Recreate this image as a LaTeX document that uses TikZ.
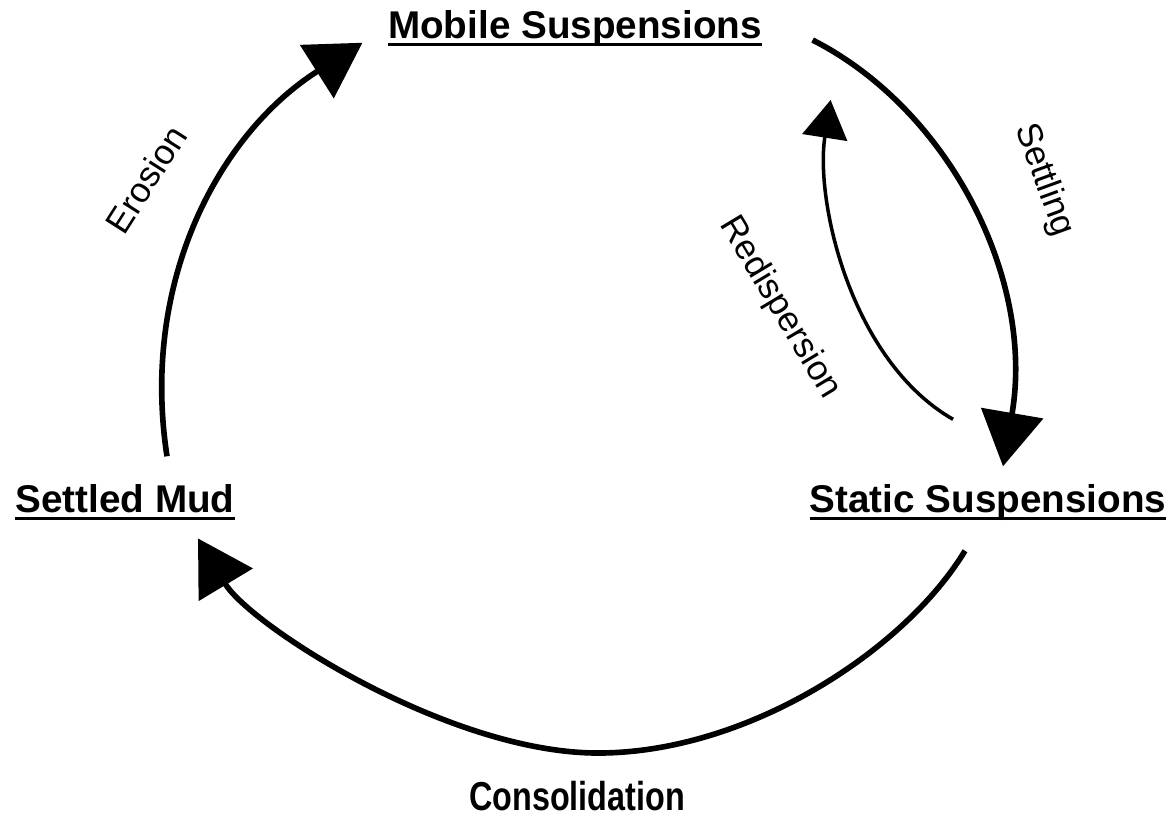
\documentclass[tikz,border=0pt]{standalone}
\usepackage{fontspec}
\setmainfont{Liberation Sans}
\usetikzlibrary{arrows.meta}
% underline running through the descenders
\newsavebox{\statebox}
\newcommand{\stateline}[1]{%
  \sbox{\statebox}{#1}%
  \rlap{\rule[-2.2pt]{\wd\statebox}{0.9pt}}\usebox{\statebox}}

\begin{document}
\begin{tikzpicture}[
  % arrow styles
  >={Triangle[length=5.4mm, width=6.2mm]},
  % state title style
  statetitle/.style={
    inner sep=0pt, anchor=base, font=\fontsize{11}{13}\selectfont\bfseries
  },
  % process label style
  proclabel/.style={
    inner sep=0pt, font=\fontsize{10}{12}\selectfont
  },
  % main cycle arc
  cyclearc/.style={->, line width=1.6pt},
  % thin return arc
  backarc/.style={-{Triangle[length=3.8mm, width=4.5mm]}, line width=1pt}
]

\useasboundingbox (0,0) rectangle (11.76,-8.19);

% ─── States ─────────────────────────────────────────────────────────────────
\node[statetitle] (mobile) at (5.75,-0.38) {\stateline{Mobile Suspensions}};
\node[statetitle] (mud)    at (1.25,-5.12) {\stateline{Settled Mud}};
\node[statetitle] (static) at (9.88,-5.12) {\stateline{Static Suspensions}};

% ─── Process labels ─────────────────────────────────────────────────────────
\node[proclabel, rotate=57.5] (erosion)      at (1.46,-1.79)  {Erosion};
\node[proclabel, rotate=-70]  (settling)     at (10.44,-1.80) {Settling};
\node[proclabel, rotate=-59]  (redispersion) at (7.80,-3.08)  {Redispersion};
\node[statetitle] (consolidation) at (5.77,-8.10)
  {\scalebox{0.8}[1]{\fontsize{11.5}{13}\selectfont Consolidation}};

% ─── Arcs ───────────────────────────────────────────────────────────────────
% mud -> mobile
\draw[cyclearc]
  ([shift={(0.42,0.27)}]mud.north)
  .. controls (1.40,-2.80) and (2.20,-1.33) ..
  ([shift={(-0.25,0.04)}]mobile.south west);

% mobile -> static
\draw[cyclearc]
  ([shift={(0.50,-0.12)}]mobile.east)
  .. controls (9.50,-1.10) and (10.35,-2.80) ..
  ([shift={(0.15,0.17)}]static.north);

% static -> mobile
\draw[backarc]
  ([shift={(-0.35,0.64)}]static.north)
  .. controls (8.50,-3.60) and (8.15,-2.00) ..
  ([shift={(0.68,-0.72)}]mobile.east);

% static -> mud
\draw[cyclearc]
  ([shift={(-0.23,-0.30)}]static.south)
  .. controls (9.05,-6.50) and (7.48,-7.53) .. (5.98,-7.53)
  .. controls (4.48,-7.53) and (2.50,-6.25) ..
  ([shift={(0.73,-0.18)}]mud.south);

\end{tikzpicture}
\end{document}
